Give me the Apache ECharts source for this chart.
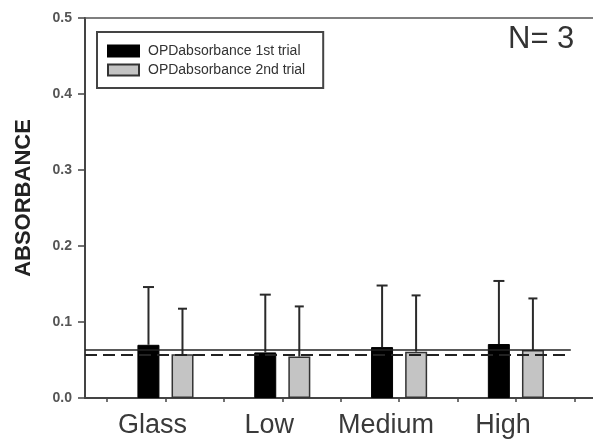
<!DOCTYPE html>
<html>
<head>
<meta charset="utf-8">
<script src="https://cdn.jsdelivr.net/npm/echarts@6/dist/echarts.min.js"></script>
<style>
html,body{margin:0;padding:0;background:#fff;}
#chart{width:593px;height:442px;}
</style>
</head>
<body>
<div id="chart"></div>
<script>
var categories = ['Glass', 'Low', 'Medium', 'High'];
var seriesNames = ['OPDabsorbance 1st trial', 'OPDabsorbance 2nd trial'];
var trial1 = [0.070, 0.060, 0.067, 0.071];
var trial1Sd = [0.076, 0.076, 0.081, 0.083];
var trial2 = [0.0575, 0.0545, 0.061, 0.063];
var trial2Sd = [0.060, 0.066, 0.074, 0.068];
var refSolid = 0.063;
var refDashed = 0.0566;
var refExtent = [0.311, 4.47];
var xExtent = [0.311, 4.66];
var xTickValues = [0.5, 1, 1.5, 2, 2.5, 3, 3.5, 4, 4.5];

var FONT = 'Liberation Sans, Arial, sans-serif';
var chart = echarts.init(document.getElementById('chart'), null, {renderer: 'canvas'});

function barData(vals) { return vals.map(function (v, i) { return [i + 1, v]; }); }
function errData(vals, sds) { return vals.map(function (v, i) { return [i + 1, v, sds[i]]; }); }

function errRender(pxOffset, capHalf) {
  return function (params, api) {
    var x = api.value(0), y = api.value(1), sd = api.value(2);
    var p0 = api.coord([x, y]);
    var p1 = api.coord([x, y + sd]);
    var cx = p0[0] + pxOffset;
    var style = {stroke: '#2a2a2a', lineWidth: 2};
    return {
      type: 'group',
      children: [
        {type: 'line', shape: {x1: cx, y1: p0[1], x2: cx, y2: p1[1]}, style: style},
        {type: 'line', shape: {x1: cx - capHalf, y1: p1[1], x2: cx + capHalf, y2: p1[1]}, style: style}
      ]
    };
  };
}

var option = {
  animation: false,
  backgroundColor: '#fff',
  grid: {left: 85, right: 0, top: 18, bottom: 44, containLabel: false},
  legend: {
    data: seriesNames,
    orient: 'vertical',
    left: 97,
    top: 32,
    padding: [12, 18, 11, 10],
    itemWidth: 31,
    itemHeight: 11,
    itemGap: 5,
    backgroundColor: '#fff',
    borderColor: '#444',
    borderWidth: 2,
    borderRadius: 0,
    textStyle: {fontFamily: FONT, fontSize: 14, color: '#333', padding: [0, 0, 0, 4]},
    icon: 'rect'
  },
  xAxis: [{
    type: 'value',
    min: xExtent[0],
    max: xExtent[1],
    splitLine: {show: false},
    axisLine: {show: true, onZero: false, lineStyle: {color: '#444', width: 2}},
    axisTick: {show: true, customValues: xTickValues, length: 4, inside: false, lineStyle: {color: '#444', width: 1.5}},
    axisLabel: {
      customValues: [1, 2, 3, 4],
      formatter: function (v) { return categories[Math.round(v) - 1] || ''; },
      fontFamily: FONT, fontSize: 27, color: '#3a3a3a', margin: 14,
      padding: [0, 26, 0, 0]
    }
  }, {
    type: 'value',
    position: 'top',
    min: xExtent[0],
    max: xExtent[1],
    splitLine: {show: false},
    axisLine: {show: true, onZero: false, lineStyle: {color: '#555', width: 1.5}},
    axisTick: {show: false},
    axisLabel: {show: false}
  }],
  yAxis: {
    type: 'value',
    min: 0,
    max: 0.5,
    interval: 0.1,
    splitLine: {show: false},
    axisLine: {show: true, lineStyle: {color: '#444', width: 2}},
    axisTick: {show: true, length: 7, lineStyle: {color: '#444', width: 1.5}},
    axisLabel: {
      formatter: function (v) { return v.toFixed(1); },
      fontFamily: FONT, fontSize: 14, fontWeight: 'bold', color: '#555', margin: 13
    }
  },
  series: [
    {
      name: seriesNames[0], type: 'bar', data: barData(trial1),
      barWidth: 22, barGap: '55%',
      itemStyle: {color: '#000', borderColor: '#000', borderWidth: 1}
    },
    {
      name: seriesNames[1], type: 'bar', data: barData(trial2),
      barWidth: 22, barGap: '55%',
      itemStyle: {color: '#c4c4c4', borderColor: '#333', borderWidth: 1.5}
    },
    {
      name: 'err1', type: 'custom', data: errData(trial1, trial1Sd),
      renderItem: errRender(-17, 5.5), z: 5, encode: {x: 0, y: 1}
    },
    {
      name: 'err2', type: 'custom', data: errData(trial2, trial2Sd),
      renderItem: errRender(17, 4.5), z: 5, encode: {x: 0, y: 1}
    },
    {
      name: 'refSolid', type: 'line', symbol: 'none', z: 6,
      data: [[refExtent[0], refSolid], [refExtent[1], refSolid]],
      lineStyle: {color: '#222', width: 1.5}
    },
    {
      name: 'refDashed', type: 'line', symbol: 'none', z: 6,
      data: [[refExtent[0], refDashed], [refExtent[1], refDashed]],
      lineStyle: {color: '#222', width: 2, type: [12, 6]}
    }
  ],
  graphic: [
    {
      type: 'text', x: 24, y: 198, rotation: Math.PI / 2,
      style: {text: 'ABSORBANCE', font: 'bold 22px ' + FONT, fill: '#222', align: 'center', verticalAlign: 'middle'}
    },
    {
      type: 'text', x: 508, y: 39,
      style: {text: 'N= 3', font: '31px ' + FONT, fill: '#333', align: 'left', verticalAlign: 'middle'}
    }
  ]
};
chart.setOption(option);
</script>
</body>
</html>
